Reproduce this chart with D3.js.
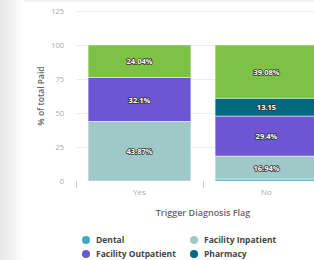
<!DOCTYPE html>
<html>
<head>
<meta charset="utf-8">
<script src="https://cdn.jsdelivr.net/npm/d3@7"></script>
<style>
  html, body { margin: 0; padding: 0; background: #fff; }
  svg { display: block; font-family: "Open Sans", sans-serif; }
</style>
</head>
<body>
<svg id="chart" width="314" height="260"></svg>
<script>
const categories = ["Yes", "No"];
const seriesNames = ["Dental", "Facility Inpatient", "Facility Outpatient", "Pharmacy", "Professional"];
const seriesColors = ["#3ea8cb", "#9fc9c9", "#6c56d4", "#02697e", "#7cc244"];
// values per series, in category order [Yes, No]
const dental = [0, 1.43];
const facilityInpatient = [43.87, 16.94];
const facilityOutpatient = [32.1, 29.4];
const pharmacy = [0, 13.15];
const professional = [24.04, 39.08];
const labelsYes = ["", "43.87%", "32.1%", "", "24.04%"];
const labelsNo = ["", "16.94%", "29.4%", "13.15", "39.08%"];
const yTicks = [0, 25, 50, 75, 100, 125];
// only the first four legend entries fit in the visible window
const legendShown = 4;

const svg = d3.select("#chart");
const width = 314, height = 260;
const margin = {left: 76, top: 11, bottom: 79};
const plotRight = 330;

// soft shadow on the left edge
const defs = svg.append("defs");
const grad = defs.append("linearGradient").attr("id", "edge");
grad.append("stop").attr("offset", "0%").attr("stop-color", "#e6e6e6");
grad.append("stop").attr("offset", "100%").attr("stop-color", "#fff");
svg.append("rect").attr("x", 0).attr("y", 0).attr("width", 24).attr("height", height).attr("fill", "url(#edge)");
svg.append("line").attr("x1", 24).attr("x2", width).attr("y1", 1).attr("y2", 1)
    .attr("stroke", "#f2f2f2").attr("stroke-width", 2);

const x = d3.scaleBand()
    .domain(categories)
    .range([margin.left, plotRight])
    .paddingInner(0.19)
    .paddingOuter(0.095);

const y = d3.scaleLinear()
    .domain([0, 125])
    .range([height - margin.bottom, margin.top]);

// gridlines + y tick labels
const yAxis = svg.append("g");
yAxis.selectAll("line").data(yTicks).enter().append("line")
    .attr("x1", margin.left).attr("x2", width)
    .attr("y1", d => y(d) + 0.5).attr("y2", d => y(d) + 0.5)
    .attr("stroke", d => d === 0 ? "none" : "#ececec");
yAxis.selectAll("text").data(yTicks).enter().append("text")
    .attr("x", 64).attr("y", d => y(d) + 3)
    .attr("text-anchor", "end")
    .attr("font-size", 7.5).attr("fill", "#a8a8a8")
    .text(d => d);

// x axis ticks at band boundaries
const bandStep = x.step();
svg.append("g").selectAll("line")
    .data(categories.map(c => x(c) - x.paddingInner() * bandStep / 2))
    .enter().append("line")
    .attr("x1", d => Math.round(d) + 0.5).attr("x2", d => Math.round(d) + 0.5)
    .attr("y1", y(0)).attr("y2", y(0) + 7)
    .attr("stroke", "#ccc");

svg.append("g").selectAll("text").data(categories).enter().append("text")
    .attr("x", d => x(d) + x.bandwidth() / 2)
    .attr("y", y(0) + 14)
    .attr("text-anchor", "middle")
    .attr("font-size", 8).attr("fill", "#aaa")
    .text(d => d);

// stacked bars
const allSeries = [dental, facilityInpatient, facilityOutpatient, pharmacy, professional];
const rows = categories.map((c, i) => {
  const r = {cat: c};
  seriesNames.forEach((s, j) => r[s] = allSeries[j][i]);
  return r;
});
const stack = d3.stack().keys(seriesNames)(rows);
const allLabels = [labelsYes, labelsNo];

const layers = svg.append("g").selectAll("g").data(stack).enter().append("g")
    .attr("fill", (d, i) => seriesColors[i]);
layers.selectAll("rect").data(d => d).enter().append("rect")
    .filter(d => d[1] - d[0] > 0)
    .attr("x", d => x(d.data.cat))
    .attr("width", x.bandwidth())
    .attr("y", d => y(d[1]))
    .attr("height", d => y(d[0]) - y(d[1]))
    .attr("stroke", "#fff").attr("stroke-width", 0.5);

// data labels (white with dark outline)
const labelData = [];
stack.forEach((layer, j) => {
  layer.forEach((d, i) => {
    const t = allLabels[i][j];
    if (t) labelData.push({t, cx: x(d.data.cat) + x.bandwidth() / 2, cy: (y(d[0]) + y(d[1])) / 2});
  });
});
const lab = svg.append("g").selectAll("g").data(labelData).enter().append("g");
lab.append("text")
    .attr("x", d => d.cx).attr("y", d => d.cy + 3)
    .attr("text-anchor", "middle").attr("font-size", 7.5).attr("font-weight", "bold")
    .attr("fill", "none").attr("stroke", "#333").attr("stroke-width", 1.6).attr("stroke-linejoin", "round")
    .text(d => d.t);
lab.append("text")
    .attr("x", d => d.cx).attr("y", d => d.cy + 3)
    .attr("text-anchor", "middle").attr("font-size", 7.5).attr("font-weight", "bold")
    .attr("fill", "#fff")
    .text(d => d.t);

// axis titles
svg.append("text")
    .attr("transform", `translate(44,${(y(0) + y(125)) / 2}) rotate(-90)`)
    .attr("text-anchor", "middle").attr("font-size", 8.5).attr("font-weight", 600).attr("fill", "#666")
    .text("% of total Paid");
svg.append("text")
    .attr("x", (margin.left + plotRight) / 2).attr("y", 216)
    .attr("text-anchor", "middle").attr("font-size", 9).attr("font-weight", 600).attr("fill", "#666")
    .text("Trigger Diagnosis Flag");

// legend
const legend = svg.append("g").selectAll("g").data(seriesNames.slice(0, legendShown)).enter().append("g")
    .attr("transform", (d, i) => `translate(${i % 2 === 0 ? 86 : 194},${240 + Math.floor(i / 2) * 14})`);
legend.append("circle").attr("r", 4).attr("fill", (d, i) => seriesColors[i]);
legend.append("text")
    .attr("x", 10).attr("y", 3)
    .attr("font-size", 8.5).attr("font-weight", "bold").attr("fill", "#444")
    .text(d => d);
</script>
</body>
</html>
